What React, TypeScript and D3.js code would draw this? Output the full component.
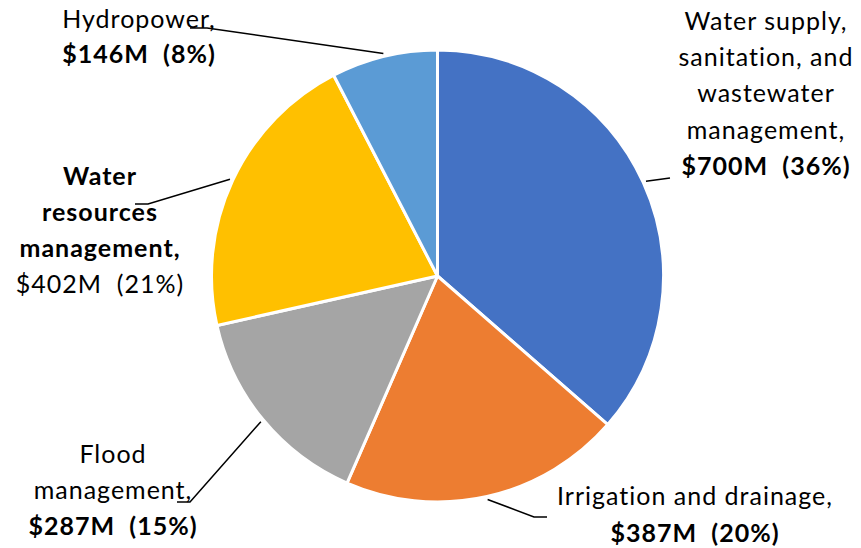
import * as d3 from "d3";

const WIDTH = 861;
const HEIGHT = 548;
const CX = 437.5;
const CY = 276;
const RADIUS = 226;

const categories = [
  "Water supply, sanitation, and wastewater management",
  "Irrigation and drainage",
  "Flood management",
  "Water resources management",
  "Hydropower",
];
const values = [700, 387, 287, 402, 146];
const colors = ["#4472C4", "#ED7D31", "#A5A5A5", "#FFC000", "#5B9BD5"];

// label text lines per slice: [text, bold]
const labelLines: [string, boolean][][] = [
  [
    ["Water supply,", false],
    ["sanitation, and", false],
    ["wastewater", false],
    ["management,", false],
    ["$700M  (36%)", true],
  ],
  [
    ["Irrigation and drainage,", false],
    ["$387M  (20%)", true],
  ],
  [
    ["Flood", false],
    ["management,", false],
    ["$287M  (15%)", true],
  ],
  [
    ["Water", true],
    ["resources", true],
    ["management,", true],
    ["$402M  (21%)", false],
  ],
  [
    ["Hydropower,", false],
    ["$146M  (8%)", true],
  ],
];

// label layout: center x, first baseline, line step
const labelPos = [
  { x: 766, y: 30, step: 36.2 },
  { x: 695, y: 505, step: 37 },
  { x: 113, y: 463, step: 36 },
  { x: 100, y: 185, step: 36 },
  { x: 139, y: 28, step: 35 },
];

// leader line elbows (near the labels)
const leaderEnds: [number, number][][] = [
  [[670, 178]],
  [[534, 517], [547, 517]],
  [[190, 502], [177, 502]],
  [[148, 204], [135, 204]],
  [[207, 28], [190, 28]],
];

export default function App() {
  const pie = d3
    .pie<number>()
    .sort(null)
    .value((d) => d)
    .startAngle(0)
    .endAngle(2 * Math.PI);
  const arcs = pie(values);
  const arcGen = d3.arc<d3.PieArcDatum<number>>().innerRadius(0).outerRadius(RADIUS);

  return (
    <svg
      width={WIDTH}
      height={HEIGHT}
      style={{ position: "absolute", left: 0, top: 0, background: "#fff" }}
      fontFamily="Lato, 'Open Sans', sans-serif"
    >
      <g transform={`translate(${CX},${CY})`}>
        {arcs.map((a, i) => (
          <path key={categories[i]} d={arcGen(a) ?? ""} fill={colors[i]} stroke="#fff" strokeWidth={3} strokeLinejoin="round" />
        ))}
      </g>
      {arcs.map((a, i) => {
        const mid = (a.startAngle + a.endAngle) / 2;
        const r = RADIUS + 3;
        const start: [number, number] = [CX + r * Math.sin(mid), CY - r * Math.cos(mid)];
        const pts = [start, ...leaderEnds[i]];
        return (
          <path
            key={"l" + i}
            d={d3.line()(pts) ?? ""}
            fill="none"
            stroke="#000"
            strokeWidth={1.5}
          />
        );
      })}
      {labelLines.map((lines, i) => (
        <text
          key={"t" + i}
          textAnchor="middle"
          fontSize={25}
          letterSpacing={1}
          fill="#000"
          style={{ whiteSpace: "pre" }}
        >
          {lines.map(([t, b], j) => (
            <tspan key={j} x={labelPos[i].x} y={labelPos[i].y + j * labelPos[i].step} fontWeight={b ? 700 : 400}>
              {t}
            </tspan>
          ))}
        </text>
      ))}
    </svg>
  );
}
